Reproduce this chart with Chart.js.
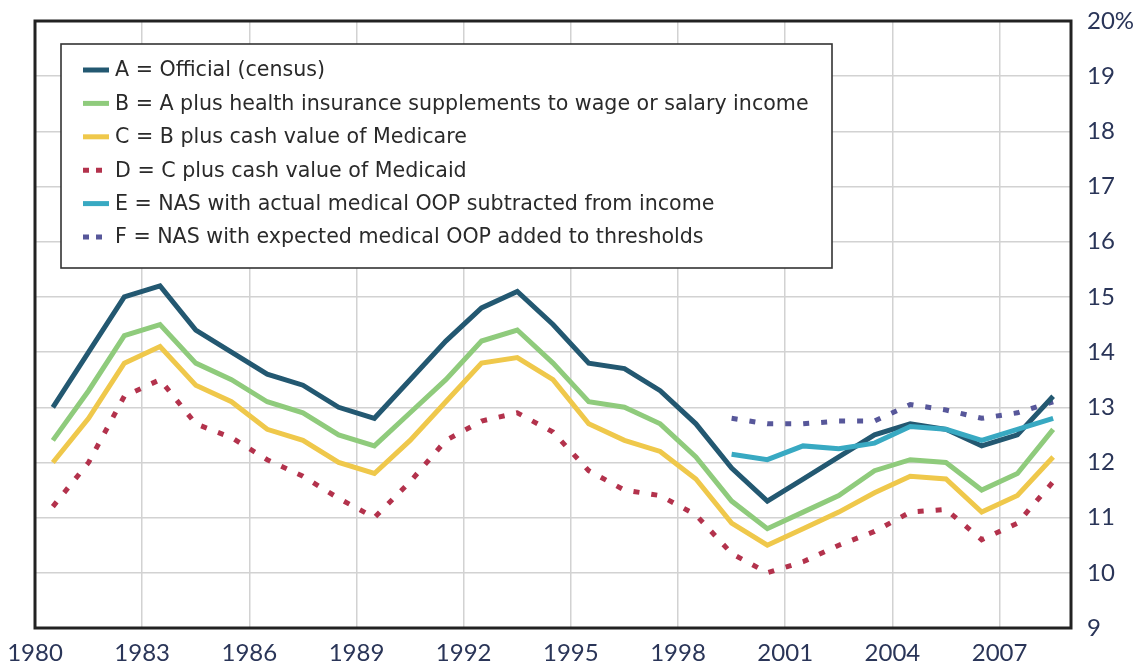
<!DOCTYPE html>
<html>
<head>
<meta charset="utf-8">
<title>Poverty rate under alternative measures</title>
<script src="https://cdn.jsdelivr.net/npm/chart.js@4.4.1/dist/chart.umd.min.js"></script>
<style>
  html, body { margin: 0; padding: 0; background: #fff; }
  #wrap { width: 1141px; height: 664px; }
</style>
</head>
<body>
<div id="wrap"><canvas id="povertyChart" width="1141" height="664"></canvas></div>
<script>
// yearly values, plotted at mid-year
const years = [1980, 1981, 1982, 1983, 1984, 1985, 1986, 1987, 1988, 1989,
               1990, 1991, 1992, 1993, 1994, 1995, 1996, 1997, 1998, 1999,
               2000, 2001, 2002, 2003, 2004, 2005, 2006, 2007, 2008];

const official = [13.0, 14.0, 15.0, 15.2, 14.4, 14.0, 13.6, 13.4, 13.0, 12.8,
                  13.5, 14.2, 14.8, 15.1, 14.5, 13.8, 13.7, 13.3, 12.7, 11.9,
                  11.3, 11.7, 12.1, 12.5, 12.7, 12.6, 12.3, 12.5, 13.2];
const plusHealthIns = [12.4, 13.3, 14.3, 14.5, 13.8, 13.5, 13.1, 12.9, 12.5, 12.3,
                       12.9, 13.5, 14.2, 14.4, 13.8, 13.1, 13.0, 12.7, 12.1, 11.3,
                       10.8, 11.1, 11.4, 11.85, 12.05, 12.0, 11.5, 11.8, 12.6];
const plusMedicare = [12.0, 12.8, 13.8, 14.1, 13.4, 13.1, 12.6, 12.4, 12.0, 11.8,
                      12.4, 13.1, 13.8, 13.9, 13.5, 12.7, 12.4, 12.2, 11.7, 10.9,
                      10.5, 10.8, 11.1, 11.45, 11.75, 11.7, 11.1, 11.4, 12.1];
const plusMedicaid = [11.2, 12.0, 13.2, 13.5, 12.7, 12.45, 12.05, 11.75, 11.35, 11.0,
                      11.65, 12.4, 12.75, 12.9, 12.55, 11.85, 11.5, 11.4, 11.05, 10.35,
                      10.0, 10.2, 10.5, 10.75, 11.1, 11.15, 10.6, 10.9, 11.65];
// NAS series only exist from 1999
const nasActualOop = [null, null, null, null, null, null, null, null, null, null,
                      null, null, null, null, null, null, null, null, null, 12.15,
                      12.05, 12.3, 12.25, 12.35, 12.65, 12.6, 12.4, 12.6, 12.8];
const nasExpectedOop = [null, null, null, null, null, null, null, null, null, null,
                        null, null, null, null, null, null, null, null, null, 12.8,
                        12.7, 12.7, 12.75, 12.75, 13.05, 12.95, 12.8, 12.9, 13.1];

const seriesLabels = [
  'A = Official (census)',
  'B = A plus health insurance supplements to wage or salary income',
  'C = B plus cash value of Medicare',
  'D = C plus cash value of Medicaid',
  'E = NAS with actual medical OOP subtracted from income',
  'F = NAS with expected medical OOP added to thresholds'
];
const xTicks = [1980, 1983, 1986, 1989, 1992, 1995, 1998, 2001, 2004, 2007];
const yTicks = [9, 10, 11, 12, 13, 14, 15, 16, 17, 18, 19, 20];

const toPoints = (vals) => vals.map((v, i) => ({ x: years[i] + 0.5, y: v }));

function lineSet(label, vals, color, dotted, order) {
  return {
    label: label,
    data: toPoints(vals),
    borderColor: color,
    backgroundColor: color,
    borderWidth: 5,
    borderDash: dotted ? [6, 12] : [],
    borderCapStyle: 'butt',
    borderJoinStyle: 'miter',
    pointRadius: 0,
    tension: 0,
    spanGaps: false,
    fill: false,
    order: order
  };
}

const datasets = [
  lineSet(seriesLabels[0], official, '#235871', false, 1),
  lineSet(seriesLabels[1], plusHealthIns, '#8fcb7c', false, 2),
  lineSet(seriesLabels[2], plusMedicare, '#efc84b', false, 2),
  lineSet(seriesLabels[3], plusMedicaid, '#b3324c', true, 2),
  lineSet(seriesLabels[4], nasActualOop, '#38a9c2', false, 0),
  lineSet(seriesLabels[5], nasExpectedOop, '#57579a', true, 2)
];

// dark frame round the plot plus the boxed key in the upper left
const frameAndKey = {
  id: 'frameAndKey',
  afterDatasetsDraw(chart) {
    const { ctx, chartArea: a } = chart;
    ctx.save();

    const bx = a.left + 26, by = a.top + 23, bw = 771, bh = 224;
    ctx.fillStyle = '#fff';
    ctx.fillRect(bx, by, bw, bh);
    ctx.strokeStyle = '#333';
    ctx.lineWidth = 1.6;
    ctx.strokeRect(bx, by, bw, bh);

    ctx.font = '20.6px "DejaVu Sans"';
    ctx.textBaseline = 'middle';
    ctx.textAlign = 'left';
    chart.data.datasets.forEach((ds, i) => {
      const y = by + 26 + i * 33.4;
      ctx.strokeStyle = ds.borderColor;
      ctx.lineWidth = 5;
      ctx.lineCap = 'butt';
      ctx.setLineDash(ds.borderDash.length ? [6, 7] : []);
      ctx.beginPath();
      ctx.moveTo(bx + 22, y);
      ctx.lineTo(bx + 48, y);
      ctx.stroke();
      ctx.setLineDash([]);
      ctx.fillStyle = '#2a2a2a';
      ctx.fillText(ds.label, bx + 54, y + 1);
    });

    ctx.strokeStyle = '#222';
    ctx.lineWidth = 3;
    ctx.strokeRect(a.left, a.top, a.right - a.left, a.bottom - a.top);
    ctx.restore();
  }
};

const tickFont = { family: 'Lato', size: 24 };
const tickColor = '#2a3558';
const gridColor = '#d2d2d2';

new Chart(document.getElementById('povertyChart'), {
  type: 'line',
  data: { datasets: datasets },
  options: {
    responsive: false,
    animation: false,
    layout: { padding: { left: 35, top: 21, right: 0, bottom: 0 } },
    plugins: {
      legend: { display: false },
      tooltip: { enabled: false }
    },
    scales: {
      x: {
        type: 'linear',
        min: 1980,
        max: 2009,
        afterBuildTicks: (scale) => {
          scale.ticks = xTicks.map(v => ({ value: v }));
        },
        afterFit: (scale) => {
          scale.height = 36;
          scale.paddingLeft = 0;
          scale.paddingRight = 0;
        },
        ticks: {
          autoSkip: false,
          maxRotation: 0,
          padding: 11,
          color: tickColor,
          font: tickFont,
          callback: (v) => String(v)
        },
        grid: { color: gridColor, lineWidth: 1.5, drawTicks: false },
        border: { display: false }
      },
      y: {
        position: 'right',
        min: 9,
        max: 20,
        afterBuildTicks: (scale) => {
          scale.ticks = yTicks.map(v => ({ value: v }));
        },
        afterFit: (scale) => {
          scale.width = 70;
          scale.paddingTop = 0;
          scale.paddingBottom = 0;
        },
        ticks: {
          padding: 16,
          color: tickColor,
          font: tickFont,
          callback: (v) => (v === 20 ? '20%' : String(v))
        },
        grid: { color: gridColor, lineWidth: 1.5, drawTicks: false },
        border: { display: false }
      }
    }
  },
  plugins: [frameAndKey]
});
</script>
</body>
</html>
